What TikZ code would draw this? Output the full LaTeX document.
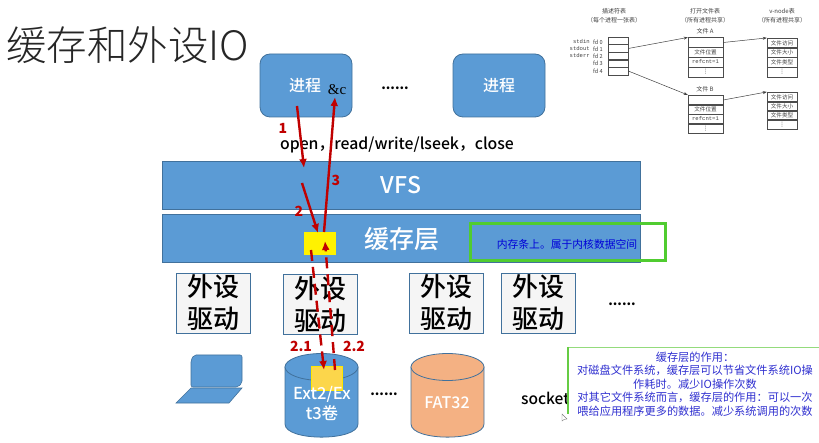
\documentclass[tikz,border=0pt]{standalone}
\usepackage{fontspec}
\setmainfont{Noto Sans CJK SC}
\newfontfamily\thinfont{Noto Sans CJK SC Light}
\newfontfamily\medfont{Noto Sans CJK SC Medium}
\newfontfamily\serifbit{Liberation Serif}
\newfontfamily\symbolfont{DejaVu Sans}
\setmonofont{Liberation Mono}
\usetikzlibrary{arrows.meta}
\AtBeginDocument{\lineskiplimit=-20pt\relax}
\definecolor{barblue}{HTML}{5B9BD5}
\definecolor{barline}{HTML}{41719C}
\definecolor{canorange}{HTML}{F4B183}
\definecolor{arrowred}{HTML}{C00000}
\definecolor{boxgreen}{HTML}{50CC30}
\definecolor{notegreen}{HTML}{66CC44}
\definecolor{noteblue}{HTML}{3030D0}
\tikzset{
  bar/.style={draw=barline, fill=barblue, line width=0.8pt, text=white, inner sep=0pt},
  procbox/.style={bar, rounded corners=10pt, minimum width=92pt, minimum height=63pt, font=\medfont\fontsize{16}{16}\selectfont},
  driver/.style={draw=barline, fill=gray!8, line width=0.8pt, minimum width=74pt, minimum height=60pt, inner sep=0pt, align=center, font=\medfont\fontsize{26}{32}\selectfont},
  canbody/.style={draw=barline, line width=0.8pt},
  redline/.style={draw=arrowred, line width=2.4pt},
  redarrow/.style={redline, -{Latex[length=9pt,width=8pt]}},
  reddash/.style={redarrow, dash pattern=on 11pt off 6pt},
  redtext/.style={text=arrowred, font=\bfseries\fontsize{14}{14}\selectfont, inner sep=0pt},
  cell/.style={draw=black!70, line width=0.5pt, minimum width=#1, inner sep=0pt, text=black!75},
  cell/.default=35pt,
  smalltext/.style={inner sep=0pt, align=center, text=black!75, font=\fontsize{6}{9}\selectfont},
  tinytext/.style={inner sep=0pt, text=black!75, font=\fontsize{5.6}{5.6}\selectfont},
  smallarrow/.style={draw=black!75, line width=0.5pt, -{Stealth[length=4pt,width=3pt]}}
}
\begin{document}
\begin{tikzpicture}[x=1pt,y=-1pt]
\useasboundingbox (0,0) rectangle (819,443);

\node[inner sep=0pt, anchor=west, font=\thinfont\fontsize{40.5}{40.5}\selectfont, text=black!85] (title) at (6,45) {缓存和外设IO};

% processes
\node[procbox] (procA) at (306,85.5) {\hspace*{-2pt}进程};
\node[procbox] (procB) at (499,85.5) {进程};
\node[inner sep=0pt, font=\serifbit\fontsize{15}{15}\selectfont] (amp) at (337,90) {\&c};
\node[inner sep=0pt, font=\bfseries\fontsize{13}{13}\selectfont] (dotsA) at (395,88) {......};
\node[inner sep=0pt, font=\medfont\fontsize{15.8}{15.8}\selectfont] (calls) at (397,145) {open，read/write/lseek，close};

% layers
\node[bar, minimum width=478pt, minimum height=48pt, font=\medfont\fontsize{23}{23}\selectfont] (vfs) at (401,185) {VFS};
\node[bar, minimum width=478pt, minimum height=48pt] (cache) at (401,238) {};
\node[text=white, inner sep=0pt, font=\medfont\fontsize{25}{25}\selectfont] (cachetxt) at (402,239) {缓存层};
\node[draw=boxgreen, line width=3.5pt, minimum width=195pt, minimum height=37pt, inner sep=0pt] (mem) at (568,242) {};
\node[text=blue!85!black, inner sep=0pt, font=\fontsize{10.8}{10.8}\selectfont] (memtxt) at (567,244) {内存条上。属于内核数据空间};
\node[fill=yellow, minimum width=32pt, minimum height=23pt, inner sep=0pt] (buf) at (320,243.5) {};

% drivers
\node[driver] (drvA) at (213,303) {外设\\驱动};
\node[driver] (drvB) at (320.5,304.5) {外设\\驱动};
\node[driver] (drvC) at (446,303) {外设\\驱动};
\node[driver] (drvD) at (538,303) {外设\\驱动};
\node[inner sep=0pt, font=\bfseries\fontsize{13}{13}\selectfont] (dotsB) at (622,304) {......};

% devices
\draw[draw=barline, fill=barblue, line width=0.6pt, rounded corners=2pt] (191,360) -- (194,355) -- (242,355) -- (242,383) -- (238,387) -- (191,387) -- cycle;
\draw[draw=barline, fill=barblue, line width=0.6pt] (191,388) -- (242,388) -- (229,403) -- (176,403) -- cycle;
\draw[canbody, fill=barblue] (285,367) -- (285,424) .. controls (285,441.5) and (358,441.5) .. (358,424) -- (358,367) -- cycle;
\draw[canbody, fill=barblue] (321.5,367) ellipse[x radius=36.5, y radius=13.5];
\node[fill=yellow!60!orange!70, draw=yellow!90!orange, line width=0.7pt, minimum width=31pt, minimum height=24pt, inner sep=0pt] (disk) at (326.5,378) {};
\node[text=white, inner sep=0pt, align=center, font=\medfont\fontsize{16.5}{20}\selectfont] (exttxt) at (322,403) {Ext2/Ex\\t3卷};
\node[inner sep=0pt, font=\bfseries\fontsize{13}{13}\selectfont] (dotsC) at (384,394) {......};
\draw[canbody, fill=canorange] (411,367) -- (411,424) .. controls (411,441.5) and (484,441.5) .. (484,424) -- (484,367) -- cycle;
\draw[canbody, fill=canorange] (447.5,367) ellipse[x radius=36.5, y radius=13.5];
\node[text=white, inner sep=0pt, font=\medfont\fontsize{16}{16}\selectfont] (fattxt) at (447,403) {FAT32};
\node[inner sep=0pt, anchor=west, font=\medfont\fontsize{15.5}{15.5}\selectfont] (sock) at (521,398) {socket};

% note
\fill[white] (568,347) rectangle (819,421);
\coordinate (noteA) at (568,347);
\coordinate (noteB) at (819,347);
\coordinate (noteC) at (568,414);
\draw[draw=notegreen!70!white, line width=0.8pt] (noteA) -- (noteB);
\draw[draw=notegreen, line width=2pt] (noteA) -- (noteC);
\node[inner sep=0pt, align=center, text=noteblue, font=\fontsize{11.2}{13.6}\selectfont] (note) at (695,384) {缓存层的作用：\\对磁盘文件系统，缓存层可以节省文件系统IO操\\作耗时。减少IO操作次数\\对其它文件系统而言，缓存层的作用：可以一次\\喂给应用程序更多的数据。减少系统调用的次数};
\draw[draw=gray, fill=white, line width=0.4pt] (562,414) -- (562,421) -- (564,419.5) -- (567,419) -- cycle;

% red flow
\coordinate (a1) at (297,106);
\coordinate (a2) at (304,168);
\coordinate (b1) at (302,183);
\coordinate (b2) at (318,233);
\coordinate (c1) at (324,232);
\coordinate (c2) at (335,97);
\coordinate (d1) at (311,250);
\coordinate (d2) at (324,370);
\coordinate (e1) at (335,370);
\coordinate (e2) at (325,241);
\draw[redarrow] (a1) -- (a2);
\draw[redarrow] (b1) -- (b2);
\draw[redarrow] (c1) -- (c2);
\draw[reddash] (d1) -- (d2);
\draw[reddash] (e1) -- (e2);
\node[redtext] (lab1) at (283,128) {1};
\node[redtext] (lab2) at (299,211) {2};
\node[redtext] (lab3) at (336,180) {3};
\node[redtext] (lab21) at (301,346) {2.1};
\node[redtext] (lab22) at (354,346) {2.2};

% file tables
\node[smalltext] (hdA) at (614,16) {描述符表\\（每个进程一张表）};
\node[smalltext] (hdB) at (705,16) {打开文件表\\（所有进程共享）};
\node[smalltext] (hdC) at (782,16) {v-node表\\（所有进程共享）};
\foreach \i/\y/\ly/\nm in {0/40.8/42/stdin,1/48.5/49/stdout,2/56/56/stderr,3/63.5/63/,4/71/71/} {
  \node[cell=20pt, minimum height=7.6pt] (fd\i) at (618,\y) {};
  \node[tinytext, anchor=west] (fdl\i) at (593,\ly) {fd \i};
  \node[tinytext, anchor=east] (fdn\i) at (590,\ly) {\texttt{\nm}};
}
\node[smalltext] (fileA) at (705,31) {文件 A};
\node[smalltext] (fileB) at (705,89) {文件 B};
\foreach \t/\x/\w/\ya/\yb/\yc/\yd in {tA/705.5/35pt/42.5/52.5/62/72, tB/705.5/35pt/100/109.5/119/128.5, vA/782/30pt/43/52.5/62/72, vB/782/30pt/97/106.5/115.5/124.5} {
  \node[cell=\w, minimum height=9.6pt] (\t1) at (\x,\ya) {};
  \node[cell=\w, minimum height=9.6pt] (\t2) at (\x,\yb) {};
  \node[cell=\w, minimum height=9.6pt] (\t3) at (\x,\yc) {};
  \node[cell=\w, minimum height=9.6pt] (\t4) at (\x,\yd) {};
  \node[tinytext, font=\symbolfont\fontsize{6}{6}\selectfont] (\t d) at (\t4) {⋮};
}
\foreach \t in {tA,tB} {
  \node[tinytext] (\t p) at (\t2) {文件位置};
  \node[tinytext] (\t r) at (\t3) {\texttt{refcnt=1}};
}
\foreach \t in {vA,vB} {
  \node[tinytext] (\t a) at (\t1) {文件访问};
  \node[tinytext] (\t b) at (\t2) {文件大小};
  \node[tinytext] (\t c) at (\t3) {文件类型};
}
\draw[smallarrow] (fd1.east) -- (tA1.north west);
\draw[smallarrow] (fd4.east) -- (tB1.north west);
\draw[smallarrow] (tA1.east) -- (vA1.north west);
\draw[smallarrow] (tB1.east) -- (vB1.north west);
\end{tikzpicture}
\end{document}
